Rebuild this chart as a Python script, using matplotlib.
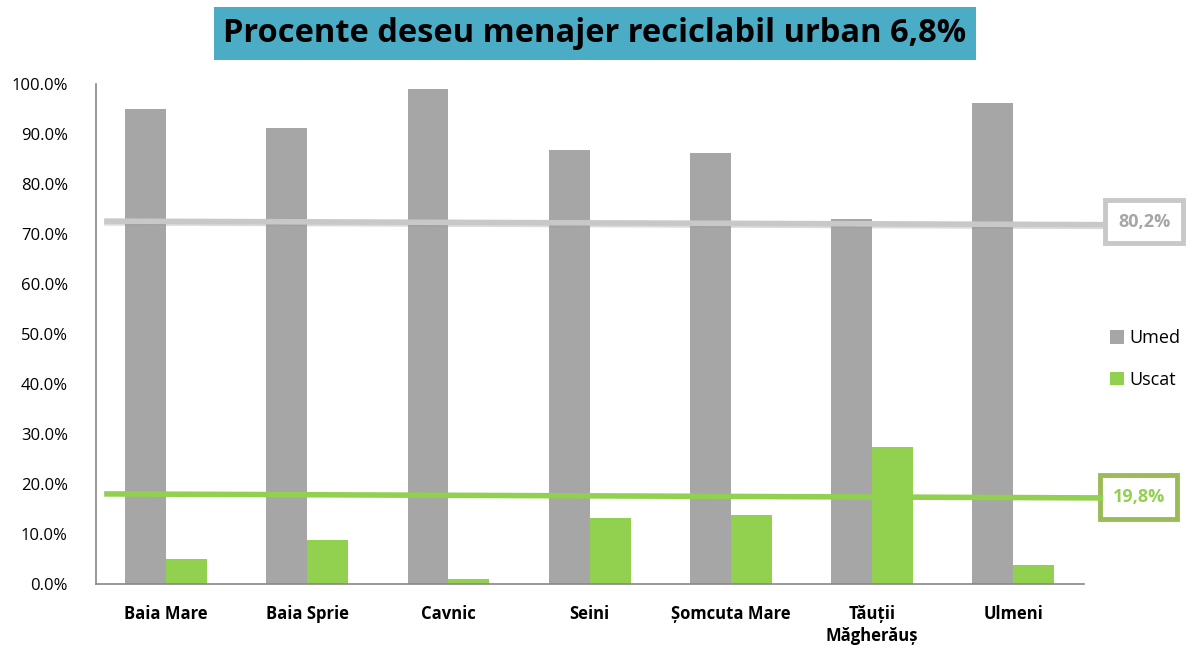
import matplotlib.pyplot as plt
import numpy as np
from matplotlib.ticker import PercentFormatter

categories = ['Baia Mare', 'Baia Sprie', 'Cavnic', 'Seini', 'Șomcuta Mare', 'Tăuții\nMăgherăuș', 'Ulmeni']
umed = [95.1, 91.3, 99.1, 86.9, 86.2, 73.0, 96.2]
uscat = [4.9, 8.7, 0.9, 13.1, 13.8, 27.3, 3.8]

# hand-drawn average lines in the original (start/end values)
umed_line = [72.6, 71.9]
uscat_line = [18.0, 17.2]
line_x = [-0.42, 6.62]
umed_label = '80,2%'
uscat_label = '19,8%'
title = 'Procente deseu menajer reciclabil urban 6,8%'

gray = '#A6A6A6'
green = '#92D050'

plt.rcParams['font.family'] = ['Open Sans', 'DejaVu Sans']

fig = plt.figure(figsize=(11.96, 6.48), dpi=100)
ax = fig.add_axes([0.080, 0.099, 0.826, 0.771])

x = np.arange(len(categories))
w = 0.29
ax.bar(x - w / 2, umed, w, color=gray, label='Umed')
ax.bar(x + w / 2, uscat, w, color=green, label='Uscat')

ax.set_xlim(-0.5, len(categories) - 0.5)
ax.set_ylim(0, 100)
ax.set_yticks(np.arange(0, 101, 10))
ax.yaxis.set_major_formatter(PercentFormatter(decimals=1))
ax.set_xticks(x)
ax.set_xticklabels(categories, fontweight='bold', fontsize=12, linespacing=1.3)
ax.tick_params(axis='x', length=0, pad=15)
ax.tick_params(axis='y', length=0, labelsize=12, pad=20)
for s in ['top', 'right']:
    ax.spines[s].set_visible(False)
for s in ['left', 'bottom']:
    ax.spines[s].set_color('#888888')
    ax.spines[s].set_linewidth(1.2)

# average lines
ax.plot(line_x, [v - 0.35 for v in umed_line], color='#999999', lw=4, alpha=0.35, clip_on=False, zorder=3)
ax.plot(line_x, umed_line, color='#C8C8C8', lw=4, clip_on=False, zorder=4)
ax.plot(line_x, uscat_line, color=green, lw=4, clip_on=False, zorder=4)

ax.text(6.93, umed_line[1] + 0.6, umed_label, ha='center', va='center', fontsize=13, fontweight='bold',
        color='#A6A6A6', clip_on=False,
        bbox=dict(boxstyle='square,pad=0.7', fc='white', ec='#C8C8C8', lw=3.5))
ax.text(6.89, uscat_line[1] + 0.2, uscat_label, ha='center', va='center', fontsize=13, fontweight='bold',
        color=green, clip_on=False,
        bbox=dict(boxstyle='square,pad=0.7', fc='white', ec='#9BBB59', lw=3.5))

ax.legend(loc='center left', bbox_to_anchor=(1.01, 0.45), frameon=False, fontsize=13,
          handlelength=0.8, handleheight=0.8, handletextpad=0.3, labelspacing=1.3)

fig.text(0.4975, 0.948, title, ha='center', va='center', fontsize=23.5, fontweight='bold',
         bbox=dict(boxstyle='square,pad=0.3', fc='#4BACC6', ec='none'))

fig.savefig('out.png', dpi=100)
